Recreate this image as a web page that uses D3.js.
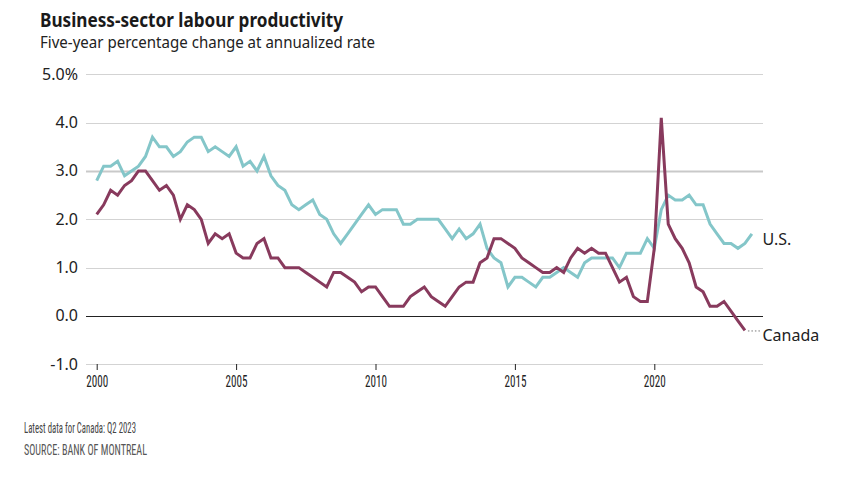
<!DOCTYPE html>
<html>
<head>
<meta charset="utf-8">
<script src="https://cdn.jsdelivr.net/npm/d3@7"></script>
<style>
  html, body { margin: 0; padding: 0; background: #fff; }
  svg { display: block; }
</style>
</head>
<body>
<svg id="chart" width="859" height="478"></svg>
<script>
// ---- Data (quarterly, starting 2000 Q1) ----
const startYear = 2000;
const canada = [2.1,2.3,2.6,2.5,2.7,2.8,3.0,3.0,2.8,2.6,2.7,2.5,2.0,2.3,2.2,2.0,
  1.5,1.7,1.6,1.7,1.3,1.2,1.2,1.5,1.6,1.2,1.2,1.0,1.0,1.0,0.9,0.8,
  0.7,0.6,0.9,0.9,0.8,0.7,0.5,0.6,0.6,0.4,0.2,0.2,0.2,0.4,0.5,0.6,
  0.4,0.3,0.2,0.4,0.6,0.7,0.7,1.1,1.2,1.6,1.6,1.5,1.4,1.2,1.1,1.0,
  0.9,0.9,1.0,0.9,1.2,1.4,1.3,1.4,1.3,1.3,1.0,0.7,0.8,0.4,0.3,0.3,
  1.4,4.1,1.9,1.6,1.4,1.1,0.6,0.5,0.2,0.2,0.3,0.1,-0.1,-0.3];
const us = [2.8,3.1,3.1,3.2,2.9,3.0,3.1,3.3,3.7,3.5,3.5,3.3,3.4,3.6,3.7,3.7,
  3.4,3.5,3.4,3.3,3.5,3.1,3.2,3.0,3.3,2.9,2.7,2.6,2.3,2.2,2.3,2.4,
  2.1,2.0,1.7,1.5,1.7,1.9,2.1,2.3,2.1,2.2,2.2,2.2,1.9,1.9,2.0,2.0,
  2.0,2.0,1.8,1.6,1.8,1.6,1.7,1.9,1.4,1.2,1.1,0.6,0.8,0.8,0.7,0.6,
  0.8,0.8,0.9,1.0,0.9,0.8,1.1,1.2,1.2,1.2,1.2,1.0,1.3,1.3,1.3,1.6,
  1.4,2.2,2.5,2.4,2.4,2.5,2.3,2.3,1.9,1.7,1.5,1.5,1.4,1.5,1.7];
const yTicks = [-1, 0, 1, 2, 3, 4, 5];
const yTickLabels = ["-1.0", "0.0", "1.0", "2.0", "3.0", "4.0", "5.0%"];
const xTicks = [2000, 2005, 2010, 2015, 2020];
const seriesNames = ["Canada", "U.S."];

const title = "Business-sector labour productivity";
const subtitle = "Five-year percentage change at annualized rate";
const note = "Latest data for Canada: Q2 2023";
const source = "SOURCE: BANK OF MONTREAL";

// ---- Layout ----
const svg = d3.select("#chart");
const colCanada = "#883a5d";
const colUS = "#84c6c9";
const gridLeft = 86, gridRight = 763;
const narrow = "'Liberation Sans Narrow', 'Roboto Condensed', 'Noto Sans', sans-serif";
const sans = "'Noto Sans', 'DejaVu Sans', sans-serif";

const x = d3.scaleLinear().domain([2000, 2020]).range([96.7, 654.3]);
const y = d3.scaleLinear().domain([-1, 5]).range([364.3, 74.3]);

const toPts = arr => arr.map((v, i) => ({t: startYear + i / 4, v}));
const canPts = toPts(canada);
const usPts = toPts(us);

function fitText(sel, w) {
  sel.attr("textLength", w).attr("lengthAdjust", "spacingAndGlyphs");
}

// Title
const tTitle = svg.append("text").attr("x", 40).attr("y", 27)
  .attr("font-family", sans)
  .attr("font-weight", 700).attr("font-size", 19.5).attr("fill", "#1a1a1a").text(title);
fitText(tTitle, 303);
const tSub = svg.append("text").attr("x", 40).attr("y", 48)
  .attr("font-family", sans)
  .attr("font-size", 16).attr("fill", "#222").text(subtitle);
fitText(tSub, 335);

// Gridlines
const grid = svg.append("g");
grid.selectAll("line").data(yTicks).join("line")
  .attr("x1", gridLeft).attr("x2", gridRight)
  .attr("y1", d => Math.round(y(d)) + 0.5).attr("y2", d => Math.round(y(d)) + 0.5)
  .attr("stroke", d => d === 0 ? "#222" : (d === 3 ? "#c9c9c9" : "#d3d3d3"))
  .attr("stroke-width", d => d === 3 ? 2 : 1);

// Y labels
svg.append("g").selectAll("text").data(yTicks).join("text")
  .attr("x", 78).attr("y", d => y(d) + 5.5)
  .attr("text-anchor", "end")
  .attr("font-family", sans)
  .attr("font-size", 16).attr("fill", "#222")
  .text((d, i) => yTickLabels[i]);

// X axis ticks
const xAxis = d3.axisBottom(x).tickValues(xTicks).tickSize(6).tickPadding(4).tickFormat(d3.format("d"));
const gx = svg.append("g").attr("transform", `translate(0,${Math.round(y(-1))})`).call(xAxis);
gx.attr("font-size", null).attr("font-family", null);
gx.select(".domain").remove();
gx.selectAll(".tick line").attr("stroke", "#222");
gx.selectAll(".tick text")
  .attr("font-family", narrow)
  .attr("font-size", 17).attr("fill", "#222").attr("dy", "0.78em")
  .attr("textLength", 22).attr("lengthAdjust", "spacingAndGlyphs");

// Lines
const line = d3.line().x(d => x(d.t)).y(d => y(d.v));
svg.append("path").datum(usPts).attr("d", line)
  .attr("fill", "none").attr("stroke", colUS).attr("stroke-width", 3);
svg.append("path").datum(canPts).attr("d", line)
  .attr("fill", "none").attr("stroke", colCanada).attr("stroke-width", 3);

// Series labels
const lastUS = usPts[usPts.length - 1];
const lastCan = canPts[canPts.length - 1];
svg.append("text").attr("x", 762.5).attr("y", y(lastUS.v) + 11)
  .attr("font-family", sans)
  .attr("font-size", 16).attr("fill", "#222").text(seriesNames[1]);
svg.append("line")
  .attr("x1", x(lastCan.t) + 3).attr("x2", 760)
  .attr("y1", y(lastCan.v) + 0.5).attr("y2", y(lastCan.v) + 0.5)
  .attr("stroke", "#777").attr("stroke-width", 1).attr("stroke-dasharray", "1.5,2");
svg.append("text").attr("x", 762.5).attr("y", y(lastCan.v) + 10.5)
  .attr("font-family", sans)
  .attr("font-size", 16).attr("fill", "#222").text(seriesNames[0]);

// Footer
const tNote = svg.append("text").attr("x", 24).attr("y", 432.5)
  .attr("font-family", narrow)
  .attr("font-size", 15.5).attr("fill", "#444").text(note);
fitText(tNote, 112);
const tSrc = svg.append("text").attr("x", 24).attr("y", 454.5)
  .attr("font-family", narrow)
  .attr("font-size", 14.5).attr("fill", "#555").text(source);
fitText(tSrc, 123);
</script>
</body>
</html>
